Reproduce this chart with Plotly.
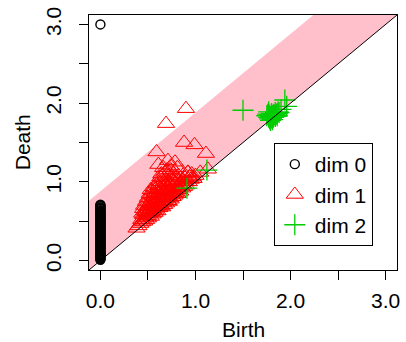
import plotly.graph_objects as go

# ---- data ----
dim0_death = [3.0, 0.71, 0.70, 0.69, 0.675, 0.665, 0.655, 0.64, 0.63, 0.62, 0.61, 0.60,
              0.59, 0.58, 0.57, 0.56, 0.55, 0.54, 0.53, 0.52, 0.51, 0.50, 0.49, 0.48,
              0.47, 0.46, 0.45, 0.44, 0.43, 0.42, 0.41, 0.40, 0.39, 0.38, 0.37, 0.36,
              0.35, 0.34, 0.33, 0.32, 0.31, 0.30, 0.29, 0.28, 0.27, 0.26, 0.25, 0.24,
              0.23, 0.22, 0.21, 0.20, 0.19, 0.18, 0.17, 0.16, 0.15, 0.14, 0.13, 0.12,
              0.11, 0.10, 0.09, 0.08, 0.07, 0.06, 0.05, 0.04, 0.03, 0.02, 0.01]
dim0_birth = [0.0] * len(dim0_death)

dim1_birth = [0.38, 0.40, 0.42, 0.43, 0.44, 0.45, 0.46, 0.47, 0.48, 0.48, 0.49, 0.50, 0.50,
              0.51, 0.52, 0.52, 0.53, 0.54, 0.54, 0.55, 0.55, 0.56, 0.56, 0.57, 0.58, 0.58,
              0.58, 0.59, 0.60, 0.60, 0.61, 0.61, 0.62, 0.62, 0.63, 0.63, 0.64, 0.64, 0.65,
              0.65, 0.66, 0.66, 0.67, 0.67, 0.68, 0.68, 0.69, 0.69, 0.70, 0.70, 0.71, 0.71,
              0.72, 0.72, 0.73, 0.73, 0.74, 0.74, 0.75, 0.75, 0.76, 0.76, 0.77, 0.77, 0.78,
              0.79, 0.79, 0.80, 0.81, 0.81, 0.82, 0.83, 0.84, 0.85, 0.86, 0.87, 0.88, 0.89,
              0.90, 0.92, 0.93, 0.95, 0.97, 1.00, 1.05, 1.13,
              0.59, 0.61, 0.71, 0.785, 0.69, 0.90, 0.88, 0.99, 1.11, 0.92, 0.66, 0.74, 0.81,
              0.44, 0.45, 0.46, 0.47, 0.48, 0.49, 0.50, 0.50, 0.51, 0.52, 0.52, 0.53, 0.53,
              0.54, 0.55, 0.55, 0.56, 0.56, 0.57, 0.57, 0.58, 0.59, 0.59, 0.60, 0.60, 0.61,
              0.62, 0.62, 0.63, 0.63, 0.64, 0.64, 0.65, 0.65, 0.66, 0.67, 0.67, 0.68, 0.68,
              0.69, 0.70, 0.70, 0.71, 0.72, 0.72, 0.73, 0.74, 0.74, 0.75, 0.76, 0.77, 0.78,
              0.78, 0.80, 0.82, 0.83, 0.85, 0.87, 0.88, 0.90, 0.94, 0.96, 0.98]
dim1_death = [0.41, 0.44, 0.47, 0.52, 0.49, 0.58, 0.50, 0.55, 0.62, 0.52, 0.68, 0.57, 0.54,
              0.72, 0.60, 0.65, 0.56, 0.78, 0.62, 0.70, 0.59, 0.84, 0.66, 0.61, 0.91, 0.74,
              0.64, 0.68, 0.80, 0.63, 0.72, 0.95, 0.67, 0.86, 1.06, 0.76, 0.70, 0.90, 0.68,
              0.82, 0.74, 1.00, 0.71, 0.88, 0.78, 0.95, 0.73, 0.84, 0.80, 1.02, 0.76, 0.92,
              0.86, 0.75, 0.98, 0.80, 0.90, 0.78, 0.84, 1.05, 0.81, 0.94, 0.88, 1.10, 0.83,
              0.98, 0.86, 0.92, 0.85, 1.02, 0.90, 0.96, 0.88, 1.00, 0.92, 0.97, 0.94, 1.05,
              0.96, 1.12, 1.00, 1.03, 1.06, 1.08, 1.12, 1.16,
              1.38, 1.22, 1.27, 1.25, 1.74, 1.93, 1.50, 1.47, 1.36, 1.12, 1.18, 1.15, 1.18,
              0.60, 0.66, 0.70, 0.63, 0.75, 0.60, 0.80, 0.66, 0.62, 0.85, 0.74, 0.68, 0.90,
              0.72, 0.82, 0.64, 0.76, 0.93, 0.70, 0.86, 0.80, 0.97, 0.75, 0.88, 0.70, 0.84,
              0.78, 1.00, 0.92, 0.70, 0.82, 1.10, 0.95, 0.76, 0.88, 1.05, 0.80, 0.90, 1.12,
              0.98, 0.86, 1.15, 0.82, 1.00, 1.08, 0.88, 0.96, 1.20, 0.92, 1.02, 0.95, 1.06,
              0.90, 1.00, 1.08, 0.92, 0.95, 1.02, 1.10, 1.00, 1.06, 1.10, 1.04]

dim2_birth = [1.50, 1.94, 1.96, 0.91, 1.12, 1.75, 1.76, 1.77, 1.78, 1.78, 1.79, 1.80, 1.80,
              1.81, 1.82, 1.82, 1.83, 1.84, 1.84, 1.85, 1.86, 1.87, 1.88, 1.79, 1.81,
              1.77, 1.86, 1.90]
dim2_death = [1.91, 2.04, 1.96, 0.92, 1.15, 1.84, 1.86, 1.82, 1.85, 1.80, 1.83, 1.87, 1.81,
              1.84, 1.82, 1.86, 1.85, 1.83, 1.88, 1.86, 1.87, 1.89, 1.88, 1.78, 1.79,
              1.89, 1.84, 1.92]

band = 0.88
lim = [-0.12, 3.12]
tick_vals = [0, 0.5, 1, 1.5, 2, 2.5, 3]
tick_text = ["0.0", "", "1.0", "", "2.0", "", "3.0"]
labels = ["dim 0", "dim 1", "dim 2"]

FONT = "Liberation Sans, Arial, sans-serif"
FS = 21

fig = go.Figure()

# confidence band
fig.add_trace(go.Scatter(
    x=[lim[0], lim[0], lim[1], lim[1]],
    y=[lim[0], lim[0] + band, lim[1] + band, lim[1]],
    fill="toself", fillcolor="#FFC0CB", mode="none",
    showlegend=False, hoverinfo="skip"))

fig.add_trace(go.Scatter(x=dim0_birth, y=dim0_death, mode="markers", name=labels[0],
                         marker=dict(symbol="circle-open", size=9, color="black",
                                     line=dict(width=1.4, color="black"))))
fig.add_trace(go.Scatter(x=dim1_birth, y=dim1_death, mode="markers", name=labels[1],
                         marker=dict(symbol="triangle-up-open", size=15, color="#FF0000",
                                     line=dict(width=1.0, color="#FF0000"))))
fig.add_trace(go.Scatter(x=dim2_birth, y=dim2_death, mode="markers", name=labels[2],
                         marker=dict(symbol="cross-thin-open", size=15, color="#00CD00",
                                     line=dict(width=1.3, color="#00CD00"))))

# diagonal
fig.add_trace(go.Scatter(x=lim, y=lim, mode="lines", line=dict(color="black", width=1),
                         showlegend=False, hoverinfo="skip"))

axis_common = dict(
    range=lim, tickvals=tick_vals, ticktext=tick_text, ticks="outside", ticklen=9,
    tickwidth=1, tickcolor="black", showgrid=False, zeroline=False, showline=True,
    mirror=True, linecolor="black", linewidth=1,
    tickfont=dict(family=FONT, size=FS, color="black"))

fig.update_layout(
    width=406, height=342,
    margin=dict(l=89, r=6, t=15, b=72, pad=0),
    plot_bgcolor="white", paper_bgcolor="white",
    font=dict(family=FONT, size=FS, color="black"),
    xaxis=dict(**axis_common, ticklabelstandoff=3),
    yaxis=dict(**axis_common, tickangle=-90, ticklabelstandoff=10),
    legend=dict(x=0.6, y=0.498, xanchor="left", yanchor="top",
                bordercolor="black", borderwidth=1, bgcolor="white",
                font=dict(family=FONT, size=FS, color="black")),
    annotations=[
        dict(text="Birth", x=0.5, y=-0.235, xref="paper", yref="paper",
             xanchor="center", yanchor="middle", showarrow=False,
             font=dict(family=FONT, size=FS, color="black")),
        dict(text="Death", x=-0.2150, y=0.5, xref="paper", yref="paper",
             xanchor="center", yanchor="middle", textangle=-90, showarrow=False,
             font=dict(family=FONT, size=FS, color="black")),
    ],
)

fig.write_html("out.html")
